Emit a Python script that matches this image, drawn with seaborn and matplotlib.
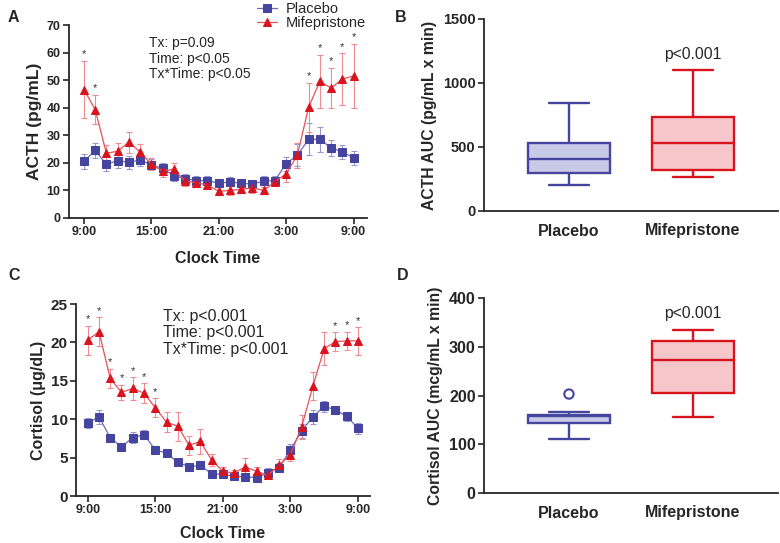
import numpy as np
import pandas as pd
import matplotlib
matplotlib.use("Agg")
import matplotlib.pyplot as plt
import seaborn as sns

# Datos del eje temporal (horas desde las 9:00)
horas = list(range(25))
ticks_horas = [0, 6, 12, 18, 24]
etiquetas_horas = ["9:00", "15:00", "21:00", "3:00", "9:00"]

# ACTH (pg/mL), media y SEM
acth_placebo = [20.5, 24.5, 19.5, 20.8, 20.2, 21.0, 19.3, 18.0, 15.4, 14.2, 13.6, 13.6, 12.6,
                13.1, 12.6, 12.3, 13.4, 13.6, 19.7, 22.8, 28.5, 28.6, 25.4, 24.0, 21.8]
acth_placebo_sem = [2.8, 2.7, 2.5, 2.5, 2.4, 2.2, 2.0, 2.0, 1.8, 1.6, 1.6, 1.6, 1.4,
                    1.6, 1.4, 1.6, 2.0, 1.8, 2.5, 4.0, 5.8, 4.5, 3.0, 2.6, 2.6]
acth_mife = [46.6, 39.3, 23.5, 24.2, 27.5, 24.0, 19.5, 17.0, 17.7, 13.4, 12.8, 11.9, 9.7,
             10.0, 10.4, 10.9, 10.0, 13.2, 16.0, 22.8, 40.1, 49.6, 47.1, 50.4, 51.5]
acth_mife_sem = [10.3, 5.3, 2.8, 3.1, 3.8, 3.0, 2.2, 2.2, 2.2, 1.8, 1.6, 1.3, 1.4,
                 1.5, 1.4, 1.8, 1.2, 1.5, 2.8, 4.5, 9.0, 9.7, 7.3, 9.3, 11.6]
acth_asteriscos = [0, 1, 20, 21, 22, 23, 24]

# Cortisol (ug/dL), media y SEM
cort_placebo = [9.5, 10.3, 7.6, 6.4, 7.6, 8.0, 6.0, 5.6, 4.4, 3.8, 4.0, 2.9, 2.8,
                2.6, 2.5, 2.4, 3.0, 3.7, 6.0, 8.5, 10.3, 11.7, 11.2, 10.4, 8.8]
cort_placebo_sem = [0.6, 0.9, 0.4, 0.4, 0.7, 0.6, 0.4, 0.4, 0.4, 0.4, 0.5, 0.3, 0.3,
                    0.3, 0.3, 0.3, 0.6, 0.6, 0.8, 0.9, 0.9, 0.7, 0.5, 0.6, 0.7]
cort_mife = [20.3, 21.4, 15.3, 13.5, 14.0, 13.4, 11.5, 9.6, 9.1, 6.6, 7.1, 4.7, 3.2,
             3.0, 3.8, 3.2, 2.7, 4.0, 5.4, 9.0, 14.3, 19.2, 20.1, 20.2, 20.2]
cort_mife_sem = [1.9, 1.9, 1.3, 1.0, 1.5, 1.3, 1.2, 1.3, 1.9, 1.2, 1.6, 0.8, 0.6,
                 0.4, 1.1, 0.6, 0.4, 0.8, 0.8, 1.6, 1.8, 2.2, 1.2, 1.2, 1.8]
cort_asteriscos = [0, 1, 2, 3, 4, 5, 6, 22, 23, 24]

# AUC: minimo, Q1, mediana, Q3, maximo
grupos = ["Placebo", "Mifepristone"]
acth_auc_placebo = [201, 295, 408, 533, 844]
acth_auc_mife = [267, 324, 533, 732, 1105]
cort_auc_placebo = [111, 143, 158, 161, 166]
cort_auc_mife = [156, 205, 273, 312, 334]
cort_auc_placebo_atipicos = [203]

# Colores
azul = "#45459f"
azul_linea = "#6a6ac0"
azul_error = "#9898d0"
azul_relleno = "#c9c9e8"
rojo = "#d8141e"
rojo_linea = "#e8505a"
rojo_error = "#ee8c92"
rojo_relleno = "#f6c6ca"

sns.set_style("ticks")
plt.rcParams["font.family"] = ["Liberation Sans", "DejaVu Sans"]
plt.rcParams["axes.linewidth"] = 1.3

W, H = 780, 543
fig = plt.figure(figsize=(7.8, 5.43), dpi=100)


def caja(izq, arriba, der, abajo):
    return fig.add_axes([izq / W, (H - abajo) / H, (der - izq) / W, (abajo - arriba) / H])


def panel_linea(ax, plac, plac_sem, mife, mife_sem, estrellas, xlim, ylim, yticks,
                ylabel, ylabel_size, ytick_size, texto, texto_pos, texto_size, offset):
    ax.errorbar(horas, plac, yerr=plac_sem, fmt="none", ecolor=azul_error,
                elinewidth=0.8, capsize=2.2, capthick=0.8, zorder=1)
    ax.errorbar(horas, mife, yerr=mife_sem, fmt="none", ecolor=rojo_error,
                elinewidth=0.8, capsize=2.2, capthick=0.8, zorder=1)
    sns.lineplot(x=horas, y=plac, ax=ax, color=azul_linea, linewidth=0.9, marker="s",
                 markersize=5.8, markerfacecolor=azul, markeredgecolor=azul,
                 label="Placebo", zorder=3)
    sns.lineplot(x=horas, y=mife, ax=ax, color=rojo_linea, linewidth=0.9, marker="^",
                 markersize=6.3, markerfacecolor=rojo, markeredgecolor=rojo,
                 label="Mifepristone", zorder=3)
    for i in estrellas:
        ax.text(horas[i], mife[i] + mife_sem[i] + offset, "*", ha="center", va="bottom",
                fontsize=8, color="#333333")
    ax.set_xlim(*xlim)
    ax.set_ylim(*ylim)
    ax.set_xticks(ticks_horas)
    ax.set_xticklabels(etiquetas_horas, fontsize=9, fontweight="bold")
    ax.set_yticks(yticks)
    ax.set_yticklabels([str(v) for v in yticks], fontsize=ytick_size, fontweight="bold")
    ax.set_xlabel("Clock Time", fontsize=11.5, fontweight="bold", labelpad=9)
    ax.set_ylabel(ylabel, fontsize=ylabel_size, fontweight="bold", labelpad=3)
    ax.tick_params(direction="out", length=4, width=1.2, pad=2)
    ax.text(texto_pos[0], texto_pos[1], texto, fontsize=texto_size, va="top", ha="left",
            linespacing=1.15)
    sns.despine(ax=ax)


def panel_caja(ax, plac, mife, ylim, yticks, ylabel, tick_size, p_y, atipicos=None):
    df = pd.DataFrame({"grupo": ["Placebo"] * len(plac) + ["Mifepristone"] * len(mife),
                       "valor": plac + mife})
    for g, relleno, borde in [("Placebo", azul_relleno, azul), ("Mifepristone", rojo_relleno, rojo)]:
        sns.boxplot(data=df[df["grupo"] == g], x="grupo", y="valor", order=grupos, ax=ax,
                    color=relleno, linecolor=borde, linewidth=1.7, width=0.66,
                    whis=(0, 100), saturation=1)
    if atipicos:
        ax.scatter([0] * len(atipicos), atipicos, facecolors="none", edgecolors=azul,
                   s=45, linewidths=1.5, zorder=4)
    ax.set_xlim(-0.685, 1.685)
    ax.set_ylim(*ylim)
    ax.set_yticks(yticks)
    ax.set_yticklabels([str(v) for v in yticks], fontsize=tick_size, fontweight="bold")
    ax.set_xticks([0, 1])
    ax.set_xticklabels(grupos, fontsize=11.5, fontweight="bold")
    ax.tick_params(axis="x", length=0, pad=9)
    ax.tick_params(axis="y", direction="out", length=4, width=1.2, pad=2)
    ax.set_xlabel("")
    ax.set_ylabel(ylabel, fontsize=11.3, fontweight="bold", labelpad=4)
    ax.text(1, p_y, "p<0.001", ha="center", va="center", fontsize=11.3)
    sns.despine(ax=ax)


# Panel A
ax_a = caja(69, 25, 367, 218)
panel_linea(ax_a, acth_placebo, acth_placebo_sem, acth_mife, acth_mife_sem, acth_asteriscos,
            (-1.33, 25.2), (0, 70), list(range(0, 71, 10)), "ACTH (pg/mL)", 12.5, 9,
            "Tx: p=0.09\nTime: p<0.05\nTx*Time: p<0.05", (5.8, 66.0), 10, 0.6)
handles, labels = ax_a.get_legend_handles_labels()
ax_a.get_legend().remove()
fig.legend(handles, labels, loc="upper left", bbox_to_anchor=(257 / W, 0.997), frameon=False,
           fontsize=10.5, handlelength=1.4, handletextpad=0.6, labelspacing=0.0,
           borderaxespad=0, borderpad=0)

# Panel C
ax_c = caja(76, 304, 370, 496)
panel_linea(ax_c, cort_placebo, cort_placebo_sem, cort_mife, cort_mife_sem, cort_asteriscos,
            (-1.04, 25.07), (0, 25), list(range(0, 26, 5)), "Cortisol (\u03bcg/dL)", 11.5, 11,
            "Tx: p<0.001\nTime: p<0.001\nTx*Time: p<0.001", (6.7, 24.4), 11.4, 0.15)
ax_c.get_legend().remove()
ax_c.xaxis.labelpad = 7

# Panel B
ax_b = caja(484, 19, 778, 211)
panel_caja(ax_b, acth_auc_placebo, acth_auc_mife, (0, 1500), [0, 500, 1000, 1500],
           "ACTH AUC (pg/mL x min)", 10.5, 1219)

# Panel D
ax_d = caja(484, 298, 778, 493)
panel_caja(ax_d, cort_auc_placebo, cort_auc_mife, (0, 400), [0, 100, 200, 300, 400],
           "Cortisol AUC (mcg/mL x min)", 11.5, 369, cort_auc_placebo_atipicos)

# Letras de panel
for letra, x, y in [("A", 8, 17), ("B", 395, 17), ("C", 8, 276), ("D", 397, 276)]:
    fig.text(x / W, 1 - y / H, letra, fontsize=11.5, fontweight="bold", va="center", ha="left")

fig.savefig("out.png", dpi=100)
